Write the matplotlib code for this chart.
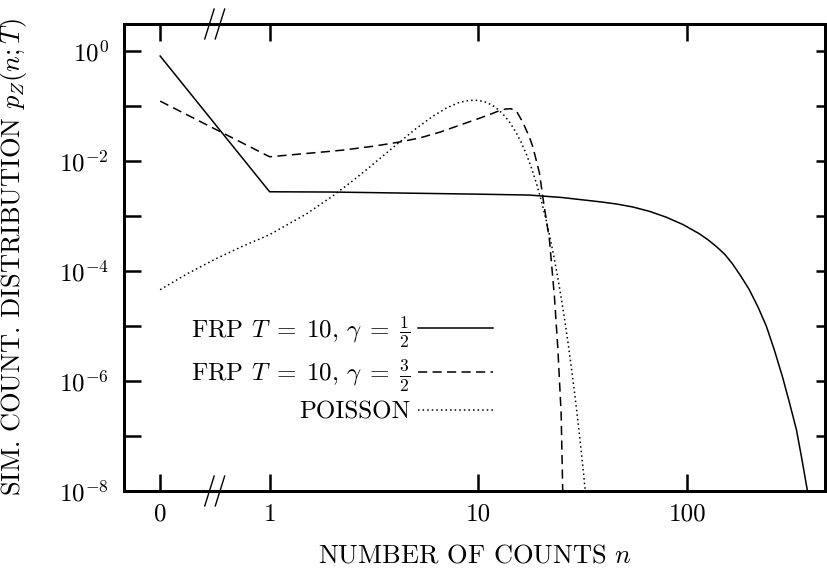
import numpy as np
import matplotlib
matplotlib.use('Agg')
import matplotlib.pyplot as plt
from matplotlib.ticker import NullFormatter, NullLocator

plt.rcParams['font.family'] = 'cmr10'
plt.rcParams['mathtext.fontset'] = 'cm'
plt.rcParams['axes.formatter.use_mathtext'] = True
plt.rcParams['axes.unicode_minus'] = False

# FRP T=10, gamma=1/2 (solid)
n_half = [0, 1, 2, 5.2, 10, 17.5, 25, 37.9, 45.7, 54.6, 66.1, 79.4, 95.5, 114, 126, 138, 151, 164,
          180, 198, 218, 239, 261, 285, 308, 333, 353, 375, 389]
p_half = [0.798, 2.73e-3, 2.70e-3, 2.56e-3, 2.47e-3, 2.38e-3, 2.15e-3, 1.80e-3, 1.64e-3, 1.45e-3,
          1.20e-3, 9.4e-4, 6.9e-4, 4.73e-4, 3.63e-4, 2.74e-4, 2.0e-4, 1.36e-4, 8.1e-5, 4.54e-5,
          2.19e-5, 9.84e-6, 3.63e-6, 1.21e-6, 4.07e-7, 1.29e-7, 3.9e-8, 1.05e-8, 4.5e-9]

# FRP T=10, gamma=3/2 (dashed)
n_3half = [0, 1, 1.94, 2.24, 3.16, 4.19, 5.25, 6.61, 8.32, 10, 11.5, 12.6, 13.5, 14.3, 15.2, 16.3,
           17.5, 18.2, 19.6, 20.31, 21.87, 23.1, 23.96, 24.87, 25.31, 25.45]
p_3half = [0.121, 0.0118, 0.0148, 0.0156, 0.0184, 0.0219, 0.0260, 0.0335, 0.0457, 0.0582, 0.0708,
           0.0813, 0.0871, 0.0881, 0.0794, 0.0501, 0.0273, 0.0180, 5.9e-3, 2.22e-3, 3.62e-4,
           3.38e-5, 4.18e-6, 2.61e-7, 1.04e-8, 3e-9]

# Poisson (dotted)
n_pois = [0, 0.25, 0.5, 0.75, 1, 1.5, 2, 2.5, 3, 4, 5, 6, 7, 8, 9, 10, 11, 12, 13, 14, 15, 16, 17,
          18, 19, 20, 21, 22, 23, 24, 25, 26, 27, 28, 29, 30, 31, 32, 33]
p_pois = [4.54e-5, 8.91e-5, 1.62e-4, 2.78e-4, 4.54e-4, 1.08e-3, 2.27e-3, 4.32e-3, 7.57e-3, 1.89e-2,
          3.78e-2, 6.31e-2, 9.01e-2, 0.113, 0.125, 0.125, 0.114, 0.0948, 0.0729, 0.0521, 0.0347,
          0.0217, 0.0128, 7.10e-3, 3.73e-3, 1.87e-3, 8.87e-4, 4.03e-4, 1.75e-4, 7.33e-5, 2.92e-5,
          1.13e-5, 4.18e-6, 1.48e-6, 5.14e-7, 1.71e-7, 5.52e-8, 1.73e-8, 5.24e-9]

labels = [r'FRP $T \;=\; 10$, $\gamma \;=\; \frac{1}{2}$',
          r'FRP $T \;=\; 10$, $\gamma \;=\; \frac{3}{2}$',
          'POISSON']

xticks = [0, 1, 10, 100]
xtick_labels = ['0', '1', '10', '100']
yticks = [1e-8, 1e-6, 1e-4, 1e-2, 1e0]
yticks_minor = [1e-7, 1e-5, 1e-3, 1e-1]

GAP = 0.524  # width of the 0..1 stretch, in decades


def fwd(n):
    n = np.asarray(n, dtype=float)
    return np.where(n < 1, (n - 1) * GAP, np.log10(np.clip(n, 1, None)))


def inv(u):
    u = np.asarray(u, dtype=float)
    return np.where(u < 0, u / GAP + 1, 10 ** np.clip(u, -300, 300))


fig = plt.figure(figsize=(8.27, 5.70), dpi=100)
ax = fig.add_axes([0.150, 0.1386, 0.8478, 0.8193])
ax.set_xscale('function', functions=(fwd, inv))
ax.set_yscale('log')

ax.plot(n_half, p_half, color='black', lw=1.1, label=labels[0])
ax.plot(n_3half, p_3half, color='black', lw=1.1, linestyle=(0, (6, 3.5)), label=labels[1])
ax.plot(n_pois, p_pois, color='black', lw=1.1, linestyle=(0, (1, 2)), label=labels[2])

ax.set_xlim(-0.33, 457)
ax.set_ylim(1e-8, 3.05)

ax.set_xticks(xticks, labels=xtick_labels)
ax.set_yticks(yticks)
ax.set_yticks(yticks_minor, minor=True)
ax.yaxis.set_minor_formatter(NullFormatter())
ax.tick_params(which='both', direction='in', length=12, width=1.8, top=True, right=False,
               labelsize=18)
ax.tick_params(axis='x', pad=9)
ax.tick_params(axis='y', pad=11)
for s in ax.spines.values():
    s.set_linewidth(2.0)

ax.set_xlabel('NUMBER OF COUNTS $n$', fontsize=19)
ax.set_ylabel('SIM. COUNT. DISTRIBUTION $p_Z(n;T)$', fontsize=19)
ax.xaxis.set_label_coords(0.5, -0.112)
ax.yaxis.set_label_coords(-0.135, 0.5)

ax.legend(loc='center right', bbox_to_anchor=(0.526, 0.262), frameon=False, markerfirst=False,
          handlelength=3.0, handletextpad=0.3, labelspacing=0.3, borderpad=0,
          borderaxespad=0, fontsize=18)

# shorter ticks on the right side
ax2 = ax.twinx()
ax2.set_yscale('log')
ax2.set_ylim(ax.get_ylim())
ax2.set_yticks(sorted(yticks + yticks_minor))
ax2.yaxis.set_minor_locator(NullLocator())
ax2.yaxis.set_major_formatter(NullFormatter())
ax2.tick_params(direction='in', length=6.5, width=1.8)
for s in ax2.spines.values():
    s.set_linewidth(2.0)

# axis break marks "//"
for cx in (0.1218, 0.1368):
    for cy in (0.0, 1.0):
        ax.plot([cx - 0.0067, cx + 0.0067], [cy - 0.032, cy + 0.032], color='black', lw=1.0,
                transform=ax.transAxes, clip_on=False)

fig.savefig('out.png', dpi=100)
